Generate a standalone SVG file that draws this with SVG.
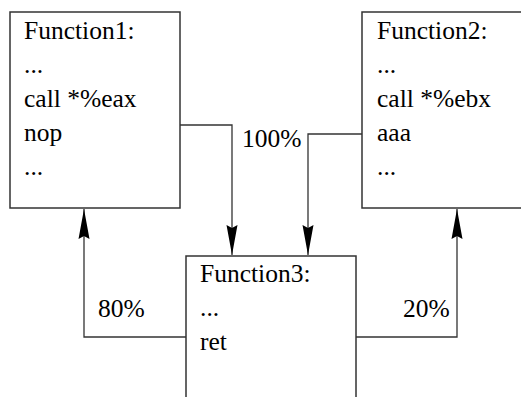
<svg xmlns="http://www.w3.org/2000/svg" width="521" height="397" viewBox="0 0 521 397">
  <style>
    .box { fill: #fff; stroke: #333; stroke-width: 1.5; }
    .wire { fill: none; stroke: #333; stroke-width: 1.3; }
    text { font-family: "Liberation Serif", "DejaVu Serif", serif; font-size: 25.5px; fill: #000; }
  </style>
  <defs>
    <marker id="arrow" markerUnits="userSpaceOnUse" markerWidth="34" markerHeight="14" viewBox="-31 -7 34 14" refX="0" refY="0" orient="auto">
      <path d="M0,0 L-30,-5.5 L-27,0 L-30,5.5 Z" fill="#000"/>
    </marker>
  </defs>

  <g id="function1">
    <rect class="box" x="10" y="12" width="170" height="196"/>
    <text x="24" y="39">Function1:</text>
    <text x="24" y="73">...</text>
    <text x="24" y="107">call *%eax</text>
    <text x="24" y="141">nop</text>
    <text x="24" y="175">...</text>
  </g>

  <g id="function2">
    <rect class="box" x="362" y="12" width="170" height="196"/>
    <text x="377" y="39">Function2:</text>
    <text x="377" y="73">...</text>
    <text x="377" y="107">call *%ebx</text>
    <text x="377" y="141">aaa</text>
    <text x="377" y="175">...</text>
  </g>

  <g id="function3">
    <rect class="box" x="186" y="256" width="170" height="160"/>
    <text x="200" y="282">Function3:</text>
    <text x="200" y="316">...</text>
    <text x="200" y="350">ret</text>
  </g>

  <g id="connectors">
    <path class="wire" d="M180,125 H232 V255" marker-end="url(#arrow)"/>
    <path class="wire" d="M362,134 H308 V255" marker-end="url(#arrow)"/>
    <path class="wire" d="M186,337 H84 V209" marker-end="url(#arrow)"/>
    <path class="wire" d="M356,337 H457 V209" marker-end="url(#arrow)"/>
    <text x="242" y="147">100%</text>
    <text x="98" y="317">80%</text>
    <text x="403" y="317">20%</text>
  </g>
</svg>
